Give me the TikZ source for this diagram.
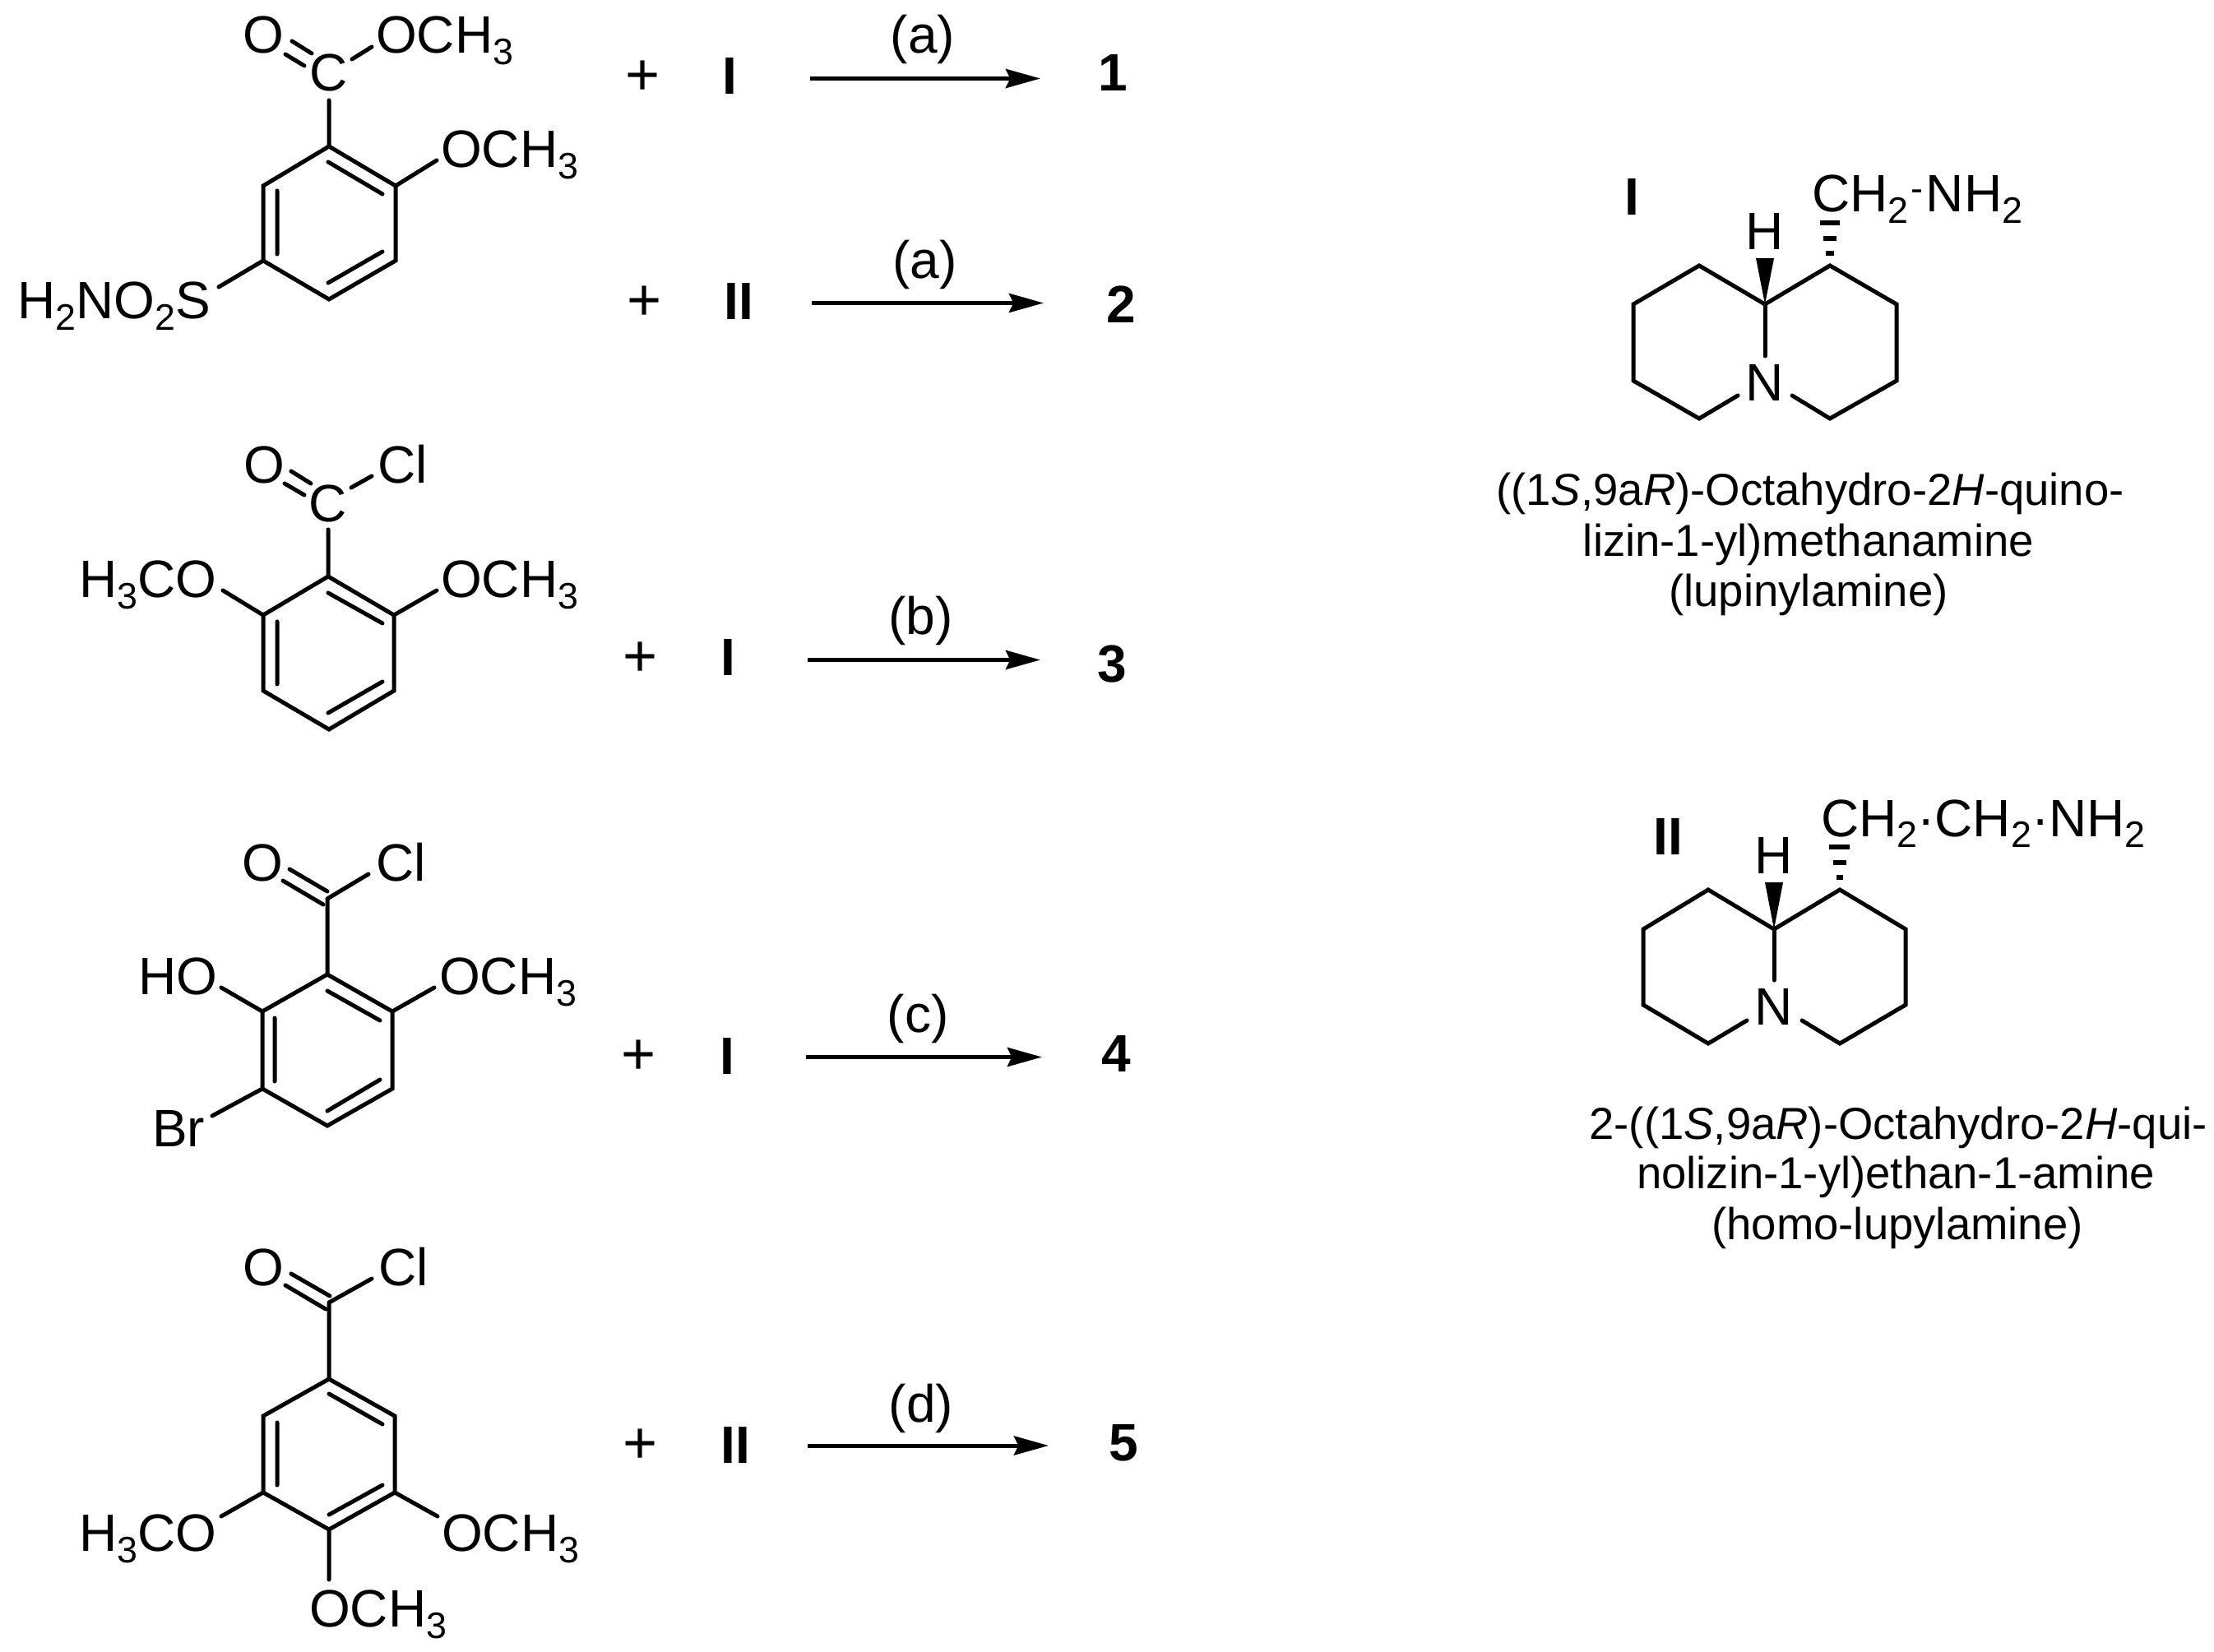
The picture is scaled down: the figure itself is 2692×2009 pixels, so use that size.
\documentclass[tikz,border=0pt]{standalone}
\usepackage{fontspec}
\setmainfont{Liberation Sans}
\usetikzlibrary{arrows.meta}
\newcommand{\fsmain}{\fontsize{19.2pt}{19.2pt}\selectfont}
\newcommand{\fssub}{\fontsize{13.44pt}{13.44pt}\selectfont}
\newcommand{\chemsub}[1]{\raisebox{-4.2pt}{\fssub #1}}
\newcommand{\minidash}{\kern1pt\raisebox{3.9pt}{\fssub -}\kern1pt}
\tikzset{
  lblw/.style={inner sep=0pt,outer sep=0pt,anchor=base west,font=\fsmain},
  lblc/.style={inner sep=0pt,outer sep=0pt,anchor=base,font=\fsmain},
  boldc/.style={inner sep=0pt,outer sep=0pt,anchor=base,font=\fsmain\bfseries},
  plussign/.style={inner sep=0pt,outer sep=0pt,anchor=base,font=\fontsize{21.6pt}{21.6pt}\selectfont},
  captionline/.style={inner sep=0pt,outer sep=0pt,anchor=base,font=\fontsize{16.35pt}{16.35pt}\selectfont},
  bond/.style={line width=1.5pt,line join=miter,line cap=round},
  rxn/.style={line width=1.5pt,-{Stealth[length=12.6pt,width=6.9pt,inset=1.6pt]}},
  hashd/.style={line width=1.6pt},
}
\begin{document}
\begin{tikzpicture}[x=0.3pt,y=-0.3pt]
\useasboundingbox (0,0) rectangle (2692,2009);
%% ---- molecule A
\coordinate (a1) at (400,178); \coordinate (a2) at (481,226); \coordinate (a3) at (481,317);
\coordinate (a4) at (400,364); \coordinate (a5) at (320,317); \coordinate (a6) at (320,226);
\draw[bond] (a1)--(a2)--(a3)--(a4)--(a5)--(a6)--cycle;
\coordinate (ai1) at (399,197); \coordinate (ai2) at (465,236);
\coordinate (ai3) at (337,232); \coordinate (ai4) at (337,309);
\coordinate (ai5) at (399,344); \coordinate (ai6) at (465,306);
\draw[bond] (ai1)--(ai2) (ai3)--(ai4) (ai5)--(ai6);
\node[lblc] (aO) at (320,65) {O};
\node[lblc] (aC) at (400,111) {C};
\node[lblw] (aM) at (457,65) {OCH\chemsub{3}};
\node[lblw] (aOM) at (536,204) {OCH\chemsub{3}};
\node[lblw] (aS) at (21,388) {H\chemsub{2}NO\chemsub{2}S};
\coordinate (ad1) at (355,50); \coordinate (ad2) at (379,65); \coordinate (ad3) at (347,66); \coordinate (ad4) at (370,80);
\draw[bond] (ad1)--(ad2) (ad3)--(ad4);
\coordinate (ab1) at (428,72); \coordinate (ab2) at (452,57); \coordinate (ab3) at (400,122);
\coordinate (ab4) at (531,195); \coordinate (ab5) at (266,349);
\draw[bond] (ab1)--(ab2) (ab3)--(a1) (a2)--(ab4) (a5)--(ab5);
%% ---- molecule C
\coordinate (c1) at (399,701); \coordinate (c2) at (479,748); \coordinate (c3) at (479,840);
\coordinate (c4) at (400,887); \coordinate (c5) at (320,840); \coordinate (c6) at (320,748);
\draw[bond] (c1)--(c2)--(c3)--(c4)--(c5)--(c6)--cycle;
\coordinate (ci1) at (399,721); \coordinate (ci2) at (465,758);
\coordinate (ci3) at (337,756); \coordinate (ci4) at (337,832);
\coordinate (ci5) at (399,867); \coordinate (ci6) at (465,829);
\draw[bond] (ci1)--(ci2) (ci3)--(ci4) (ci5)--(ci6);
\node[lblc] (cO) at (321,588) {O};
\node[lblc] (cC) at (399,635) {C};
\node[lblw] (cCl) at (459,588) {Cl};
\node[lblw] (cL) at (96,727) {H\chemsub{3}CO};
\node[lblw] (cR) at (536,727) {OCH\chemsub{3}};
\coordinate (cd1) at (354,573); \coordinate (cd2) at (378,588); \coordinate (cd3) at (346,588); \coordinate (cd4) at (370,602);
\draw[bond] (cd1)--(cd2) (cd3)--(cd4);
\coordinate (cb1) at (427,593); \coordinate (cb2) at (452,579); \coordinate (cb3) at (399,644);
\coordinate (cb4) at (271,718); \coordinate (cb5) at (531,718);
\draw[bond] (cb1)--(cb2) (cb3)--(c1) (c6)--(cb4) (c2)--(cb5);
%% ---- molecule D
\coordinate (d1) at (398,1185); \coordinate (d2) at (477,1230); \coordinate (d3) at (477,1324);
\coordinate (d4) at (398,1369); \coordinate (d5) at (319,1324); \coordinate (d6) at (319,1230);
\draw[bond] (d1)--(d2)--(d3)--(d4)--(d5)--(d6)--cycle;
\coordinate (di1) at (398,1205); \coordinate (di2) at (462,1241);
\coordinate (di3) at (334,1238); \coordinate (di4) at (334,1315);
\coordinate (di5) at (398,1351); \coordinate (di6) at (462,1313);
\draw[bond] (di1)--(di2) (di3)--(di4) (di5)--(di6);
\node[lblc] (dO) at (319,1071) {O};
\node[lblw] (dCl) at (457,1071) {Cl};
\node[lblw] (dHO) at (168,1209) {HO};
\node[lblw] (dM) at (534,1209) {OCH\chemsub{3}};
\node[lblw] (dBr) at (185,1394) {Br};
\coordinate (dC) at (398,1093);
\coordinate (dd1) at (352,1057); \coordinate (dd2) at (398,1084); \coordinate (dd3) at (344,1071); \coordinate (dd4) at (393,1100);
\draw[bond] (dd1)--(dd2) (dd3)--(dd4);
\coordinate (db1) at (448,1063); \coordinate (db2) at (269,1201); \coordinate (db3) at (528,1201); \coordinate (db4) at (258,1357);
\draw[bond] (dC)--(db1) (dC)--(d1) (d6)--(db2) (d2)--(db3) (d5)--(db4);
%% ---- molecule E
\coordinate (e1) at (400,1677); \coordinate (e2) at (480,1722); \coordinate (e3) at (480,1815);
\coordinate (e4) at (400,1860); \coordinate (e5) at (320,1815); \coordinate (e6) at (320,1722);
\draw[bond] (e1)--(e2)--(e3)--(e4)--(e5)--(e6)--cycle;
\coordinate (ei1) at (400,1695); \coordinate (ei2) at (465,1732);
\coordinate (ei3) at (337,1730); \coordinate (ei4) at (337,1806);
\coordinate (ei5) at (400,1842); \coordinate (ei6) at (465,1806);
\draw[bond] (ei1)--(ei2) (ei3)--(ei4) (ei5)--(ei6);
\node[lblc] (eO) at (320,1563) {O};
\node[lblw] (eCl) at (460,1563) {Cl};
\node[lblw] (eL) at (96,1886) {H\chemsub{3}CO};
\node[lblw] (eR) at (537,1886) {OCH\chemsub{3}};
\node[lblw] (eB) at (376,1978) {OCH\chemsub{3}};
\coordinate (eC) at (400,1584);
\coordinate (ed1) at (354,1549); \coordinate (ed2) at (401,1576); \coordinate (ed3) at (347,1563); \coordinate (ed4) at (396,1592);
\draw[bond] (ed1)--(ed2) (ed3)--(ed4);
\coordinate (eb1) at (452,1555); \coordinate (eb2) at (269,1844); \coordinate (eb3) at (532,1844); \coordinate (eb4) at (400,1921);
\draw[bond] (eC)--(eb1) (eC)--(e1) (e5)--(eb2) (e3)--(eb3) (e4)--(eb4);
%% ---- reactions
\node[plussign] (p1) at (782,116) {+};
\node[plussign] (p2) at (784,390) {+};
\node[plussign] (p3) at (779,823) {+};
\node[plussign] (p4) at (777,1306) {+};
\node[plussign] (p5) at (779,1779) {+};
\node[boldc] (r1) at (887.5,115) {I};
\node[boldc] (r2) at (898,389) {II};
\node[boldc] (r3) at (885.5,822) {I};
\node[boldc] (r4) at (884,1306) {I};
\node[boldc] (r5) at (894.5,1779) {II};
\node[lblc] (l1) at (1122,65) {(a)};
\node[lblc] (l2) at (1124.5,339) {(a)};
\node[lblc] (l3) at (1119.5,772) {(b)};
\node[lblc] (l4) at (1116,1255) {(c)};
\node[lblc] (l5) at (1120,1729) {(d)};
\node[boldc] (n1) at (1353,111) {1};
\node[boldc] (n2) at (1363,393) {2};
\node[boldc] (n3) at (1352,830) {3};
\node[boldc] (n4) at (1357,1303) {4};
\node[boldc] (n5) at (1366,1776) {5};
\coordinate (s1) at (985,95.5); \coordinate (t1) at (1265,95.5);
\coordinate (s2) at (987,368.5); \coordinate (t2) at (1269,368.5);
\coordinate (s3) at (982,802.5); \coordinate (t3) at (1265,802.5);
\coordinate (s4) at (980,1285.5); \coordinate (t4) at (1267,1285.5);
\coordinate (s5) at (982,1758); \coordinate (t5) at (1275,1758);
\draw[rxn] (s1)--(t1);
\draw[rxn] (s2)--(t2);
\draw[rxn] (s3)--(t3);
\draw[rxn] (s4)--(t4);
\draw[rxn] (s5)--(t5);
%% ---- amine I
\coordinate (i0) at (2146,370); \coordinate (i1) at (2066,323); \coordinate (i2) at (1986,370);
\coordinate (i3) at (1986,463); \coordinate (i4) at (2066,509); \coordinate (i5) at (2113,481);
\coordinate (i6) at (2225,323); \coordinate (i7) at (2306,370); \coordinate (i8) at (2306,463);
\coordinate (i9) at (2225,509); \coordinate (i10) at (2179,481); \coordinate (i11) at (2146,433);
\draw[bond] (i5)--(i4)--(i3)--(i2)--(i1)--(i0)--(i6)--(i7)--(i8)--(i9)--(i10);
\draw[bond] (i0)--(i11);
\node[lblc] (iN) at (2146,488) {N};
\node[lblc] (iH) at (2146,304) {H};
\node[boldc] (iT) at (1984,262) {I};
\node[lblw] (iS) at (2203,258) {CH\chemsub{2}\minidash NH\chemsub{2}};
\coordinate (iw1) at (2135,314); \coordinate (iw2) at (2157,314);
\fill (i0)--(iw1)--(iw2)--cycle;
\coordinate (ih1) at (2213,271); \coordinate (ih2) at (2237,271);
\coordinate (ih3) at (2217,290); \coordinate (ih4) at (2233,290);
\coordinate (ih5) at (2220,308); \coordinate (ih6) at (2230,308);
\draw[hashd] (ih1)--(ih2) (ih3)--(ih4) (ih5)--(ih6);
\node[captionline] (ic1) at (2201,615) {((1\textit{S},9a\textit{R})-Octahydro-2\textit{H}-quino-};
\node[captionline] (ic2) at (2199,677) {lizin-1-yl)methanamine};
\node[captionline] (ic3) at (2199,738) {(lupinylamine)};
%% ---- amine II
\coordinate (j0) at (2157,1130); \coordinate (j1) at (2077,1082); \coordinate (j2) at (1998,1130);
\coordinate (j3) at (1998,1222); \coordinate (j4) at (2077,1269); \coordinate (j5) at (2124,1241);
\coordinate (j6) at (2237,1082); \coordinate (j7) at (2317,1130); \coordinate (j8) at (2317,1222);
\coordinate (j9) at (2237,1269); \coordinate (j10) at (2191,1241); \coordinate (j11) at (2157,1192);
\draw[bond] (j5)--(j4)--(j3)--(j2)--(j1)--(j0)--(j6)--(j7)--(j8)--(j9)--(j10);
\draw[bond] (j0)--(j11);
\node[lblc] (jN) at (2157,1246) {N};
\node[lblc] (jH) at (2157,1062) {H};
\node[boldc] (jT) at (2028,1039) {II};
\node[lblw] (jS) at (2214,1017) {CH\chemsub{2}·CH\chemsub{2}·NH\chemsub{2}};
\coordinate (jw1) at (2146,1073); \coordinate (jw2) at (2168,1073);
\fill (j0)--(jw1)--(jw2)--cycle;
\coordinate (jh1) at (2224,1030); \coordinate (jh2) at (2249,1030);
\coordinate (jh3) at (2229,1049); \coordinate (jh4) at (2245,1049);
\coordinate (jh5) at (2233,1067); \coordinate (jh6) at (2241,1067);
\draw[hashd] (jh1)--(jh2) (jh3)--(jh4) (jh5)--(jh6);
\node[captionline] (jc1) at (2308,1385) {2-((1\textit{S},9a\textit{R})-Octahydro-2\textit{H}-qui-};
\node[captionline] (jc2) at (2305,1445) {nolizin-1-yl)ethan-1-amine};
\node[captionline] (jc3) at (2307,1507) {(homo-lupylamine)};
\end{tikzpicture}
\end{document}
